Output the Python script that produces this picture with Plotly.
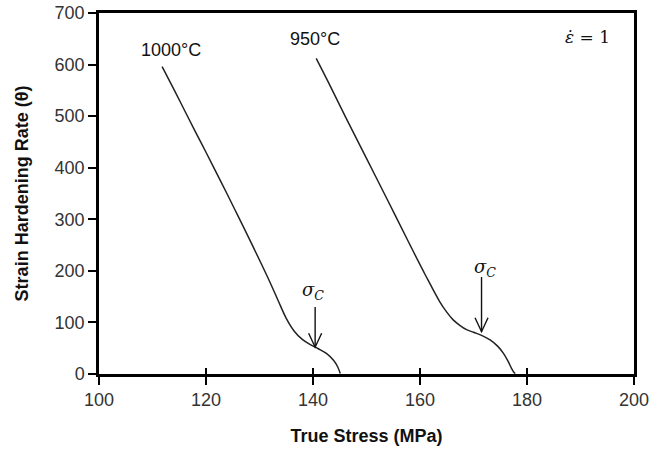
import plotly.graph_objects as go

# ---- data ----
stress_1000 = [111.8, 114.0, 116.0, 118.0, 120.0, 122.0, 124.0, 126.0, 128.0, 130.0,
               132.0, 133.5, 135.0, 136.5, 138.0, 139.5, 141.0, 142.5, 143.8, 144.6, 145.1]
theta_1000 = [596, 552, 511, 470, 430, 389, 348, 306, 264, 221,
              177, 142, 108, 83, 67, 57, 49, 40, 27, 14, 1]

stress_950 = [140.6, 143.0, 146.0, 150.0, 154.0, 158.0, 161.0, 163.7, 165.0, 166.2,
              167.5, 168.7, 170.0, 171.5, 173.1, 174.5, 175.6, 176.5, 177.1, 177.5, 177.8]
theta_950 = [612, 563, 500, 418, 336, 253, 192, 140, 120, 105,
             94, 86, 81, 75, 66, 54, 40, 24, 11, 4, 1]

curve_labels = ["1000°C", "950°C"]
label_stress = [113.4, 140.3]
label_theta = [628, 649]

sigma_c_stress = [140.4, 171.5]
sigma_c_theta = [52, 82]
sigma_c_top = [130, 188]
sigma_label_stress = [140.0, 172.1]
sigma_label_theta = [161, 206]

x_ticks = [100, 120, 140, 160, 180, 200]
y_ticks = [0, 100, 200, 300, 400, 500, 600, 700]

fig = go.Figure()
for xs, ys in [(stress_1000, theta_1000), (stress_950, theta_950)]:
    fig.add_trace(go.Scatter(x=xs, y=ys, mode="lines",
                             line=dict(color="#222", width=1.5, shape="spline", smoothing=1.0),
                             showlegend=False, hoverinfo="skip"))

annotations = []
for t, xv, yv in zip(curve_labels, label_stress, label_theta):
    annotations.append(dict(x=xv, y=yv, text=t, showarrow=False, xref="x", yref="y",
                            font=dict(family="Liberation Sans", size=18, color="#111")))
for xv, yv in zip(sigma_label_stress, sigma_label_theta):
    annotations.append(dict(x=xv, y=yv, text="<i>σ<sub>C</sub></i>", showarrow=False,
                            xref="x", yref="y",
                            font=dict(family="DejaVu Serif", size=18, color="#111")))
annotations.append(dict(x=1.0, y=1.0, xref="paper", yref="paper", xanchor="right", yanchor="top",
                        xshift=-22, yshift=-12, text="<i>ε̇</i> = 1", showarrow=False,
                        font=dict(family="DejaVu Serif", size=17, color="#111")))

shapes = []
px_per_x = 535 / 100.0
px_per_y = 361 / 700.0
for xv, yv, top in zip(sigma_c_stress, sigma_c_theta, sigma_c_top):
    shapes.append(dict(type="line", xref="x", yref="y", x0=xv, x1=xv, y0=top, y1=yv,
                       line=dict(color="#111", width=1.4)))
    hw = 6.5 / px_per_x
    hh = 14 / px_per_y
    shapes.append(dict(type="path", xref="x", yref="y",
                       path=f"M {xv-hw},{yv+hh} L {xv},{yv} L {xv+hw},{yv+hh}",
                       line=dict(color="#111", width=1.4)))

fig.update_layout(
    width=650, height=450,
    margin=dict(l=99, r=16, t=13, b=76, autoexpand=False),
    paper_bgcolor="white", plot_bgcolor="white",
    font=dict(family="Liberation Sans", size=18, color="#333"),
    annotations=annotations, shapes=shapes,
    xaxis=dict(range=[100, 200], tickvals=x_ticks, ticks="outside", ticklen=8, tickwidth=1.5,
               tickcolor="black", showline=True, linecolor="black", linewidth=2.5, mirror=True,
               showgrid=False, zeroline=False, automargin=False,
               title=dict(text="<b>True Stress (MPa)</b>", standoff=21,
                          font=dict(size=18, color="#111"))),
    xaxis2=dict(range=[100, 200], tickvals=x_ticks, ticks="inside", ticklen=6, tickwidth=1.5,
                tickcolor="black", overlaying="x", anchor="y", showticklabels=False,
                showline=False, showgrid=False, zeroline=False, automargin=False),
    yaxis=dict(range=[0, 700], tickvals=y_ticks, ticks="outside", ticklen=8, tickwidth=1.5,
               tickcolor="black", showline=True, linecolor="black", linewidth=2.5, mirror=True,
               showgrid=False, zeroline=False, automargin=False,
               title=dict(text="<b>Strain Hardening Rate (θ)</b>", standoff=22,
                          font=dict(size=18, color="#111"))),
)
fig.add_trace(go.Scatter(x=[None], y=[None], xaxis="x2", yaxis="y", showlegend=False))

fig.write_html("out.html")
